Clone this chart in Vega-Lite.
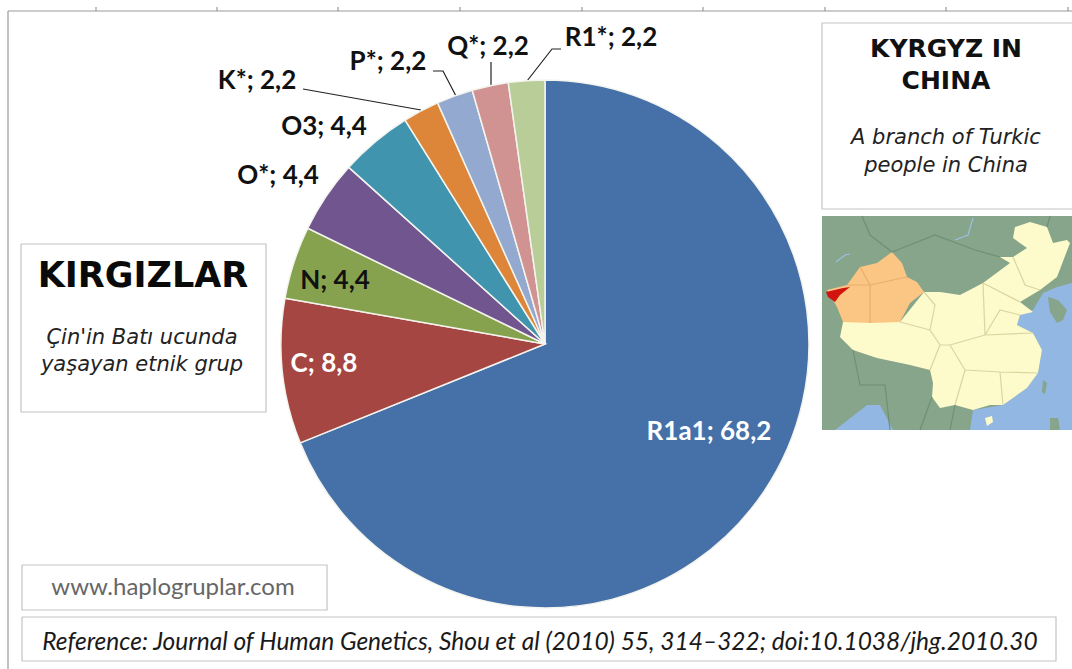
{
"$schema":"https://vega.github.io/schema/vega-lite/v6.json",
"autosize":{"type":"none"},
"padding":{"left":18,"top":19,"right":0,"bottom":0},
"width":1054,"height":650,
"background":"#ffffff",
"config":{"view":{"stroke":null}},
"datasets":{
"slices":[
{"order":1,"group":"R1a1","value":68.2,"label":"R1a1; 68,2"},
{"order":2,"group":"C","value":8.8,"label":"C; 8,8"},
{"order":3,"group":"N","value":4.4,"label":"N; 4,4"},
{"order":4,"group":"O*","value":4.4,"label":"O*; 4,4"},
{"order":5,"group":"O3","value":4.4,"label":"O3; 4,4"},
{"order":6,"group":"K*","value":2.2,"label":"K*; 2,2"},
{"order":7,"group":"P*","value":2.2,"label":"P*; 2,2"},
{"order":8,"group":"Q*","value":2.2,"label":"Q*; 2,2"},
{"order":9,"group":"R1*","value":2.2,"label":"R1*; 2,2"}
],
"notes":[
{"n":1,"kind":"headEn","text":"KYRGYZ IN"},
{"n":2,"kind":"headEn","text":"CHINA"},
{"n":3,"kind":"sub","text":"A branch of Turkic"},
{"n":4,"kind":"sub","text":"people in China"},
{"n":5,"kind":"headTr","text":"KIRGIZLAR"},
{"n":6,"kind":"sub","text":"Çin'in Batı ucunda"},
{"n":7,"kind":"sub","text":"yaşayan etnik grup"},
{"n":8,"kind":"web","text":"www.haplogruplar.com"},
{"n":9,"kind":"ref","text":"Reference: Journal of Human Genetics, Shou et al (2010) 55, 314–322; doi:10.1038/jhg.2010.30"}
],
"areas":[
{"type":"Feature","properties":{"kind":"land"},"geometry":{"type":"Polygon","coordinates":[[[822,216],[1072,216],[1072,430],[822,430],[822,216]]]}},
{"type":"Feature","properties":{"kind":"sea"},"geometry":{"type":"Polygon","coordinates":[[[1072,283],[1057,287],[1043,293],[1033,310],[1020,315],[1017,325],[1033,333],[1042,350],[1038,373],[1027,388],[1003,405],[973,410],[970,430],[1072,430],[1072,283]]]}},
{"type":"Feature","properties":{"kind":"sea"},"geometry":{"type":"Polygon","coordinates":[[[835,430],[867,405],[880,405],[893,430],[835,430]]]}},
{"type":"Feature","properties":{"kind":"land"},"geometry":{"type":"Polygon","coordinates":[[[1048,297],[1058,300],[1067,310],[1063,320],[1057,323],[1050,312],[1048,297]]]}},
{"type":"Feature","properties":{"kind":"land"},"geometry":{"type":"Polygon","coordinates":[[[1043,380],[1047,383],[1045,394],[1042,392],[1043,380]]]}},
{"type":"Feature","properties":{"kind":"land"},"geometry":{"type":"Polygon","coordinates":[[[1050,418],[1058,418],[1060,430],[1050,430],[1050,418]]]}},
{"type":"Feature","properties":{"kind":"china"},"geometry":{"type":"Polygon","coordinates":[[[840,337],[853,350],[877,358],[910,365],[930,370],[933,383],[932,397],[940,408],[955,405],[973,410],[990,405],[1003,405],[1027,388],[1038,373],[1042,350],[1033,333],[1017,325],[1020,315],[1033,312],[1020,302],[1040,290],[1057,277],[1070,243],[1067,240],[1053,243],[1047,227],[1030,222],[1015,227],[1013,238],[1027,248],[1013,257],[1000,257],[1010,263],[983,283],[960,295],[940,292],[924,292],[900,322],[843,322],[840,337]]]}},
{"type":"Feature","properties":{"kind":"china"},"geometry":{"type":"Polygon","coordinates":[[[985,418],[992,416],[993,422],[987,426],[985,418]]]}},
{"type":"Feature","properties":{"kind":"xinjiang"},"geometry":{"type":"Polygon","coordinates":[[[827,290],[847,285],[860,267],[877,263],[892,252],[902,263],[907,277],[917,282],[924,292],[910,303],[900,322],[870,323],[843,322],[837,307],[827,290]]]}},
{"type":"Feature","properties":{"kind":"kyrgyz"},"geometry":{"type":"Polygon","coordinates":[[[826,292],[843,288],[850,287],[840,295],[835,302],[828,297],[826,292]]]}}
],
"lines":[
{"type":"Feature","properties":{"kind":"frame"},"geometry":{"type":"LineString","coordinates":[[8,669],[8,11]]}},
{"type":"Feature","properties":{"kind":"frame"},"geometry":{"type":"LineString","coordinates":[[8,11],[1072,11]]}},
{"type":"Feature","properties":{"kind":"frame"},"geometry":{"type":"MultiLineString","coordinates":[[[96,7],[96,11]],[[217,7],[217,11]],[[338,7],[338,11]],[[460,7],[460,11]],[[582,7],[582,11]],[[703,7],[703,11]],[[825,7],[825,11]],[[946,7],[946,11]],[[1068,7],[1068,11]]]}},
{"type":"Feature","properties":{"kind":"box"},"geometry":{"type":"MultiLineString","coordinates":[[[1072,23],[822,23],[822,209],[1072,209]],[[21,244],[266,244],[266,412],[21,412],[21,244]],[[22,565],[327,565],[327,610],[22,610],[22,565]],[[22,617],[1056,617],[1056,661],[22,661],[22,617]]]}},
{"type":"Feature","properties":{"kind":"leader"},"geometry":{"type":"MultiLineString","coordinates":[[[303,89],[421,110]],[[433,71],[443,71],[456,96]],[[491,62],[491,85]],[[561,49],[552,49],[527,81]]]}},
{"type":"Feature","properties":{"kind":"border"},"geometry":{"type":"MultiLineString","coordinates":[[[924,292],[935,305],[930,330],[940,345],[930,370]],[[900,322],[930,330]],[[955,405],[965,370],[950,345],[940,345]],[[965,370],[1000,372],[1038,373]],[[1000,372],[1003,405]],[[950,345],[985,335],[1033,333]],[[985,335],[983,283]],[[983,283],[1020,302]],[[985,335],[1000,310],[1020,315]],[[1013,257],[1025,285],[1040,290]]]}},
{"type":"Feature","properties":{"kind":"intl"},"geometry":{"type":"MultiLineString","coordinates":[[[862,216],[870,235],[892,252]],[[892,252],[935,235],[975,250],[1000,257]],[[1047,227],[1050,216]],[[853,350],[860,385],[885,385],[890,430]],[[932,397],[920,430]],[[955,405],[950,430]]]}},
{"type":"Feature","properties":{"kind":"river"},"geometry":{"type":"MultiLineString","coordinates":[[[955,240],[968,235],[973,218]],[[836,262],[845,255],[850,254]]]}},
{"type":"Feature","properties":{"kind":"xjline"},"geometry":{"type":"MultiLineString","coordinates":[[[860,267],[870,285],[870,323]],[[870,285],[907,277]],[[847,285],[870,285]]]}}
]
},
"layer":[
{"data":{"name":"areas"},
 "mark":{"type":"geoshape","stroke":null},
 "projection":{"type":"identity","scale":1,"translate":[-18,-19]},
 "encoding":{"fill":{"field":"properties.kind","type":"nominal","legend":null,
  "scale":{"domain":["land","sea","china","xinjiang","kyrgyz"],"range":["#86a58a","#92b7e2","#fdfacb","#fbc684","#d2140f"]}}}},
{"data":{"name":"lines"},
 "mark":{"type":"geoshape","filled":false,"strokeWidth":1.2,"clip":false},
 "projection":{"type":"identity","scale":1,"translate":[-18,-19]},
 "encoding":{"stroke":{"field":"properties.kind","type":"nominal","legend":null,
  "scale":{"domain":["frame","box","leader","border","intl","river","xjline"],"range":["#999999","#c4c4c4","#222222","#d9d6a0","#6f8f76","#9cc0e4","#e8ae6c"]}}}},
{"data":{"name":"slices"},
 "mark":{"type":"arc","outerRadius":264,"stroke":"#f4f4ee","strokeWidth":1.5},
 "encoding":{
  "theta":{"field":"value","type":"quantitative","stack":true},
  "order":{"field":"order","type":"ordinal"},
  "color":{"field":"group","type":"nominal","legend":null,
   "scale":{"domain":["R1a1","C","N","O*","O3","K*","P*","Q*","R1*"],
    "range":["#4570a8","#a64643","#87a24e","#71558f","#4094ae","#dd8539","#93a9cf","#d09392","#b8cd97"]}}}},
{"data":{"name":"slices"},
 "mark":{"type":"text","font":"Lato","fontWeight":"bold","fontSize":26,"align":"center","baseline":"middle"},
 "encoding":{
  "text":{"field":"label"},
  "theta":{"field":"order","type":"quantitative","stack":null,
   "scale":{"domain":[1,2,3,4,5,6,7,8,9],
    "range":[2.0633,4.6221,5.0039,5.2745,5.4887,5.4526,5.7752,6.0936,0.2125]}},
  "radius":{"field":"order","type":"quantitative",
   "scale":{"domain":[1,2,3,4,5,6,7,8,9],
    "range":[186.1,221.9,219.2,315.5,309.7,390,322.8,302.4,313]}},
  "color":{"condition":{"test":"datum.value>=8","value":"#ffffff"},"value":"#111111"}}},
{"data":{"name":"notes"},
 "encoding":{
  "text":{"field":"text"},
  "x":{"field":"n","type":"quantitative","axis":null,
   "scale":{"domain":[1,2,3,4,5,6,7,8,9],"range":[928,928,928,928,125,124,124,155,522]}},
  "y":{"field":"n","type":"quantitative","axis":null,
   "scale":{"domain":[1,2,3,4,5,6,7,8,9],"range":[30,62,119,147,257,319,346,569,624]}}},
 "layer":[
  {"transform":[{"filter":"datum.kind==='headEn'"}],"mark":{"type":"text","font":"DejaVu Sans","fontWeight":"bold","fontSize":25,"color":"#111111"}},
  {"transform":[{"filter":"datum.kind==='headTr'"}],"mark":{"type":"text","font":"DejaVu Sans","fontWeight":"bold","fontSize":35,"color":"#0a0a0a"}},
  {"transform":[{"filter":"datum.kind==='sub'"}],"mark":{"type":"text","font":"DejaVu Sans","fontStyle":"italic","fontSize":21,"color":"#222222"}},
  {"transform":[{"filter":"datum.kind==='web'"}],"mark":{"type":"text","font":"Lato","fontSize":24,"color":"#666666"}},
  {"transform":[{"filter":"datum.kind==='ref'"}],"mark":{"type":"text","font":"Lato","fontStyle":"italic","fontSize":24.5,"color":"#1a1a1a"}}
 ]}
],
"resolve":{"scale":{"theta":"independent"}}
}
